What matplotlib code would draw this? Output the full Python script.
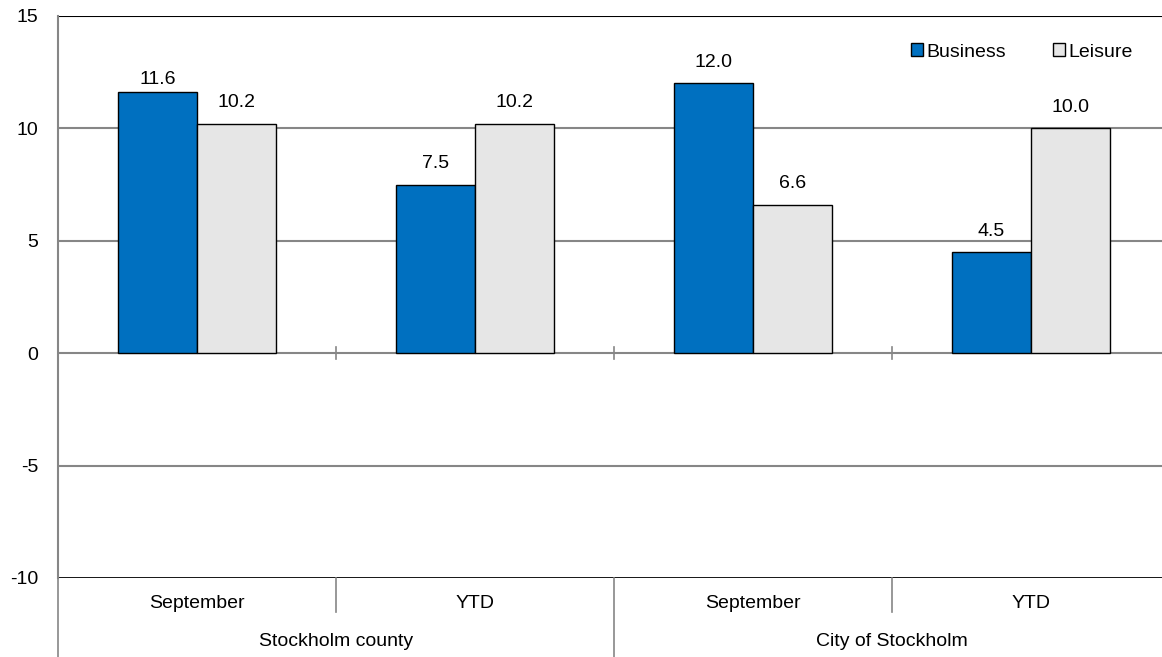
import matplotlib
matplotlib.use("Agg")
import matplotlib.pyplot as plt
from matplotlib.patches import Rectangle
import numpy as np

plt.rcParams['font.family'] = ['Liberation Sans', 'DejaVu Sans']

months = ['September', 'YTD', 'September', 'YTD']
regions = ['Stockholm county', 'City of Stockholm']
business = [11.6, 7.5, 12.0, 4.5]
leisure = [10.2, 10.2, 6.6, 10.0]

BLUE = '#0070C0'
LIGHT = '#E6E6E6'
GRID = '#868686'
FS = 14

fig = plt.figure(figsize=(11.62, 6.57), dpi=100)
ax = fig.add_axes([58 / 1162, 79 / 657, 1112 / 1162, 562 / 657])

x = np.arange(len(months))
w = 0.285
b1 = ax.bar(x - w / 2, business, w, color=BLUE, edgecolor='black', linewidth=1.0, zorder=3)
b2 = ax.bar(x + w / 2, leisure, w, color=LIGHT, edgecolor='black', linewidth=1.0, zorder=3)
for bars in (b1, b2):
    for rect in bars:
        v = rect.get_height()
        pad = 3 if 11 < v < 12 else 9  # the 11.6 label sits lower, near the top
        ax.annotate(f'{v:.1f}', (rect.get_x() + rect.get_width() / 2, v),
                    xytext=(0, pad), textcoords='offset points',
                    ha='center', va='bottom', fontsize=FS)

ax.set_xlim(-0.5, 3.5)
ax.set_ylim(-10, 15)
ax.set_yticks([-10, -5, 0, 5, 10, 15])
ax.set_yticklabels(['-10', '-5', '0', '5', '10', '15'], fontsize=FS)
ax.tick_params(axis='y', length=0, pad=14)
ax.set_xticks([])

for s in ['top', 'right', 'bottom']:
    ax.spines[s].set_visible(False)
ax.spines['left'].set_color(GRID)
ax.spines['left'].set_linewidth(1.5)

for yv in [-5, 0, 5, 10]:
    ax.axhline(yv, color=GRID, linewidth=1.5, zorder=1)
ax.axhline(15, color='black', linewidth=1.5, zorder=1)
ax.axhline(-10, color='black', linewidth=2, zorder=1)

# small ticks on the zero line between categories
tick = 6 / 22.48
for xb in [0.5, 1.5, 2.5]:
    ax.plot([xb, xb], [-tick, tick], color=GRID, linewidth=1.2, zorder=2)

# category axis below the plot
tr = ax.get_xaxis_transform()
for xb in [0.5, 2.5]:
    ax.plot([xb, xb], [0, -34 / 562], color=GRID, linewidth=1.2, transform=tr, clip_on=False)
for xb in [-0.5, 1.5, 3.5]:
    ax.plot([xb, xb], [0, -79 / 562], color=GRID, linewidth=1.2, transform=tr, clip_on=False)
for xi, m in zip(x, months):
    ax.text(xi, -26 / 562, m, ha='center', va='center', fontsize=FS, transform=tr)
for i, r in enumerate(regions):
    ax.text(2 * i + 0.5, -63 / 562, r, ha='center', va='center', fontsize=FS, transform=tr)

handles = [Rectangle((0, 0), 1, 1, facecolor=BLUE, edgecolor='black'),
           Rectangle((0, 0), 1, 1, facecolor=LIGHT, edgecolor='black')]
ax.legend(handles, ['Business', 'Leisure'], loc='center left',
          bbox_to_anchor=((911 - 58) / 1112, (657 - 52 - 79) / 562),
          ncol=2, frameon=False, fontsize=FS, handlelength=0.6, handleheight=0.6,
          handletextpad=0.2, columnspacing=2.4, borderpad=0, borderaxespad=0)

fig.savefig('out.png', dpi=100)
